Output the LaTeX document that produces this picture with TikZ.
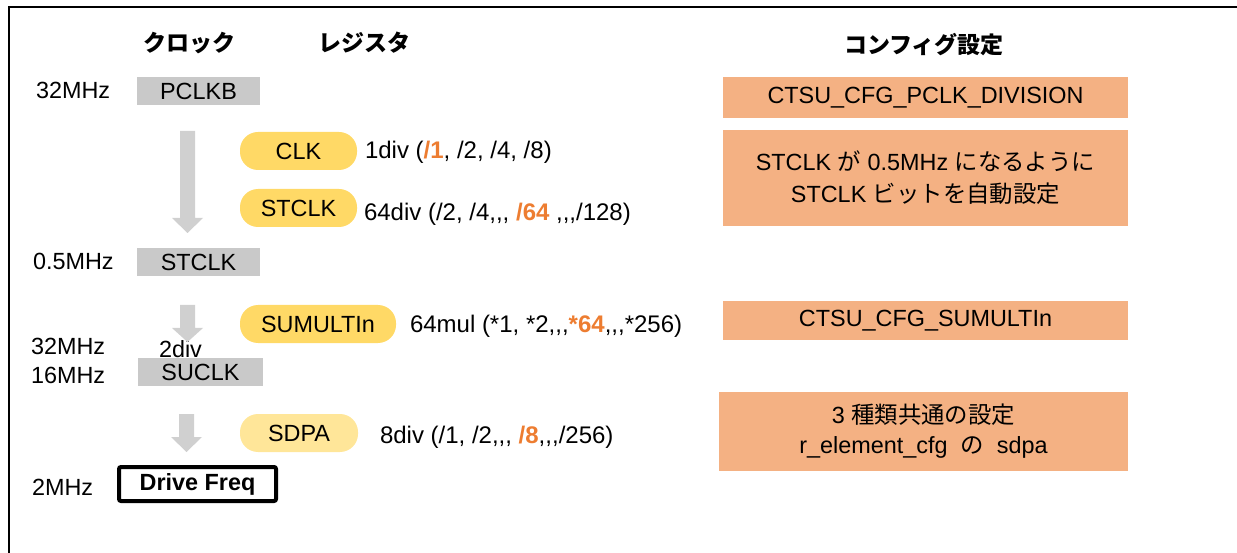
\documentclass[tikz,border=0pt]{standalone}
\usepackage{fontspec}
\setmainfont{Liberation Sans}[Ligatures=TeXOff]
\newfontfamily\jp{Noto Sans CJK JP}
\definecolor{boxgray}{HTML}{C9C9C9}
\definecolor{arrgray}{HTML}{D0D0D0}
\definecolor{pillgold}{HTML}{FFD966}
\definecolor{pilllight}{HTML}{FFE699}
\definecolor{cfgorange}{HTML}{F4B183}
\definecolor{hiorange}{HTML}{ED7D31}
\newcommand{\hi}[1]{\textcolor{hiorange}{\textbf{#1}}}
\begin{document}
\begin{tikzpicture}[x=1pt,y=-1pt,
  every node/.style={inner sep=0pt,outer sep=0pt},
  txt/.style={font=\fontsize{23.4}{27}\selectfont},
  valtxt/.style={font=\fontsize{24}{27}\selectfont},
  head/.style={font=\fontsize{23}{27}\selectfont\jp\bfseries},
  clkbox/.style={fill=boxgray,minimum height=28pt,font=\fontsize{23.4}{27}\selectfont},
  regpill/.style={fill=pillgold,rounded corners=18pt,minimum height=38pt,font=\fontsize{23.4}{27}\selectfont},
  cfgbox/.style={fill=cfgorange,align=center,font=\fontsize{23.4}{32}\selectfont},
  blockarrow/.style={fill=arrgray},
  frame/.style={line width=2pt,draw=black}
]
\useasboundingbox (0,0) rectangle (1237,553);
\draw[frame] (9,553) -- (9,7) -- (1237,7);

% headers
\node[head] (hclk) at (189,43) {クロック};
\node[head] (hreg) at (364,43) {レジスタ};
\node[head] (hcfg) at (924,45) {コンフィグ設定};

% clocks
\node[txt,anchor=base west] (f1) at (36,99) {32MHz};
\node[clkbox,minimum width=123pt] (pclkb) at (198.5,91) {PCLKB};
\node[txt,anchor=base west] (f2) at (33,270) {0.5MHz};
\node[clkbox,minimum width=123pt] (stclk) at (198.5,262) {STCLK};
\node[clkbox,minimum width=125pt] (suclk) at (200.5,372) {SUCLK};
\node[txt,anchor=base west] (f3) at (31,355) {32MHz};
\node[txt,anchor=base west] (f4) at (31,383) {16MHz};
\node[txt,anchor=base west] (d2) at (159,357) {2div};
\node[txt,anchor=base west] (f5) at (32,495) {2MHz};
\node[draw=black,line width=4pt,rounded corners=2pt,minimum width=157pt,minimum height=34pt,
      font=\fontsize{23.4}{27}\selectfont\bfseries] (drive) at (197.5,484) {Drive Freq};

% block arrows
\fill[blockarrow] (180,131) -- (195,131) -- (195,218) -- (203,218) -- (187.5,233) -- (172,218) -- (180,218) -- cycle;
\fill[blockarrow] (180,305) -- (195,305) -- (195,328) -- (203,328) -- (187.5,342) -- (172,328) -- (180,328) -- cycle;
\fill[blockarrow] (179,414) -- (194,414) -- (194,437) -- (202,437) -- (186.5,452) -- (171,437) -- (179,437) -- cycle;

% registers
\node[regpill,minimum width=117pt] (rclk) at (298.5,151) {CLK};
\node[valtxt,anchor=base west] (vclk) at (365,159) {1div (\hi{/1}, /2, /4, /8)};
\node[regpill,minimum width=117pt] (rst) at (298.5,208) {STCLK};
\node[valtxt,anchor=base west] (vst) at (364,221) {64div (/2, /4,,, \hi{/64} ,,,/128)};
\node[regpill,minimum width=156pt] (rsu) at (318,324) {SUMULTIn};
\node[valtxt,anchor=base west] (vsu) at (410,333) {64mul (*1, *2,,,\hi{*64},,,*256)};
\node[regpill,fill=pilllight,minimum width=118pt] (rsd) at (299,433) {SDPA};
\node[valtxt,anchor=base west] (vsd) at (380,443) {8div (/1, /2,,, \hi{/8},,,/256)};

% config
\node[cfgbox,minimum width=405pt,minimum height=41pt] (c1) at (925.5,97.5) {CTSU\_CFG\_PCLK\_DIVISION};
\node[cfgbox,minimum width=405pt,minimum height=96pt] (c2) at (925.5,178)
  {STCLK {\jp が} 0.5MHz {\jp になるように}\\STCLK {\jp ビットを自動設定}};
\node[cfgbox,minimum width=405pt,minimum height=39pt] (c3) at (925.5,320.5) {CTSU\_CFG\_SUMULTIn};
\node[cfgbox,minimum width=409pt,minimum height=79pt,font=\fontsize{23.4}{30}\selectfont] (c4) at (923.5,431)
  {3 {\jp 種類共通の設定}\\r\_element\_cfg\ \ {\jp の}\ \ sdpa};
\end{tikzpicture}
\end{document}
